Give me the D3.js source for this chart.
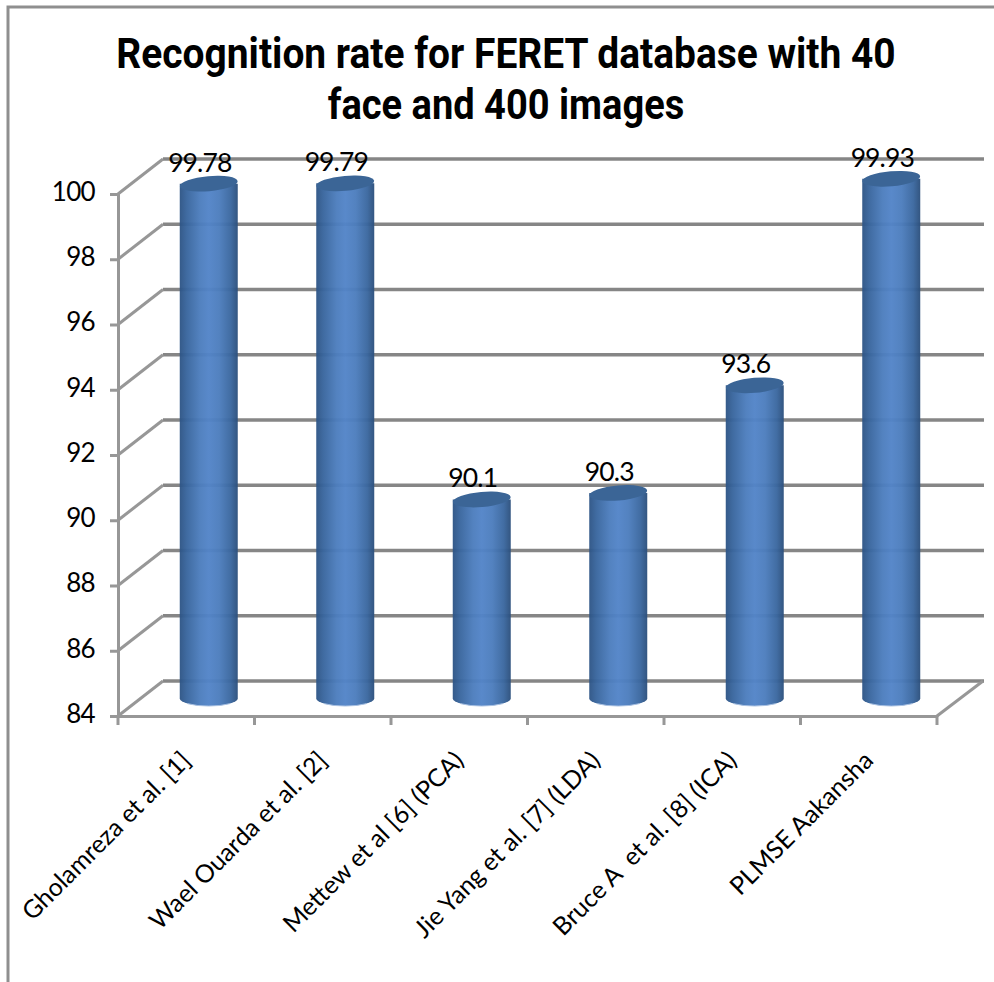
<!DOCTYPE html>
<html>
<head>
<meta charset="utf-8">
<script src="https://cdn.jsdelivr.net/npm/d3@7"></script>
<style>
  html, body { margin: 0; padding: 0; background: #fff; }
  svg { display: block; }
  text { font-family: Lato, "Open Sans", sans-serif; fill: #000; white-space: pre; }
  .title { font-family: Roboto, sans-serif; font-weight: 700; font-size: 42.5px; }
</style>
</head>
<body>
<div id="chart"></div>
<script>
var categories = ["Gholamreza et al. [1]", "Wael Ouarda et al. [2]", "Mettew et al [6] (PCA)",
    "Jie Yang et al. [7] (LDA)", "Bruce A  et al. [8] (ICA)", "PLMSE Aakansha"];
var rates = [99.78, 99.79, 90.1, 90.3, 93.6, 99.93];
var rateLabels = ["99.78", "99.79", "90.1", "90.3", "93.6", "99.93"];
var yTicks = [84, 86, 88, 90, 92, 94, 96, 98, 100];
var titleLines = ["Recognition rate for FERET database with 40", "face and 400 images"];

var width = 994, height = 982;
var depthX = 45, depthY = 35;   // offset of the back wall

var svg = d3.select("#chart").append("svg")
    .attr("width", width)
    .attr("height", height);

var x = d3.scaleBand().domain(categories).range([118, 937]);
var y = d3.scaleLinear().domain([84, 100]).range([716, 194]);

// horizontal shading of the cylinders
var grad = svg.append("defs").append("linearGradient").attr("id", "cyl");
[[0, "#2d5485"], [0.12, "#38659d"], [0.35, "#4c7dbd"], [0.5, "#5284c8"],
 [0.68, "#4c7dbd"], [0.88, "#3a679f"], [1, "#2b4f7c"]].forEach(function (s) {
    grad.append("stop").attr("offset", s[0]).attr("stop-color", s[1]);
});

// frame of the picture, cut on the right and at the bottom
svg.append("path")
    .attr("d", "M8,982V7H994")
    .attr("fill", "none")
    .attr("stroke", "#8f8f8f")
    .attr("stroke-width", 3);

// walls
var gridColor = "#868686", sideColor = "#979797";
var grid = svg.append("g");
grid.selectAll(".back").data(yTicks).enter().append("line")
    .attr("x1", 118 + depthX)
    .attr("x2", 937 + depthX + 2)
    .attr("y1", function (d) { return y(d) - depthY; })
    .attr("y2", function (d) { return y(d) - depthY; })
    .attr("stroke", gridColor)
    .attr("stroke-width", 3.5);
grid.selectAll(".side").data(yTicks).enter().append("line")
    .attr("x1", 118)
    .attr("x2", 118 + depthX)
    .attr("y1", function (d) { return y(d); })
    .attr("y2", function (d) { return y(d) - depthY; })
    .attr("stroke", sideColor)
    .attr("stroke-width", 3);
grid.append("line")
    .attr("x1", 937).attr("x2", 937 + depthX + 1)
    .attr("y1", y(84)).attr("y2", y(84) - depthY)
    .attr("stroke", sideColor)
    .attr("stroke-width", 3);

// y axis
var yAxis = svg.append("g")
    .attr("transform", "translate(118,0)")
    .call(d3.axisLeft(y).tickValues(yTicks).tickSize(8).tickPadding(15));
yAxis.selectAll("line").attr("stroke", sideColor).attr("stroke-width", 3);
yAxis.select(".domain").attr("stroke", sideColor).attr("stroke-width", 3);
yAxis.selectAll("text")
    .attr("font-size", 26)
    .attr("letter-spacing", "-0.7px")
    .attr("dy", "0.24em");

// x axis, ticks sit on the category boundaries
var xAxis = svg.append("g")
    .attr("transform", "translate(0," + y(84) + ")")
    .call(d3.axisBottom(x).tickSize(0));
xAxis.select(".domain").attr("stroke", sideColor).attr("stroke-width", 3);
xAxis.selectAll("line").remove();
xAxis.selectAll(".boundary").data(d3.range(categories.length + 1)).enter().append("line")
    .attr("x1", function (i) { return x.range()[0] + i * x.step(); })
    .attr("x2", function (i) { return x.range()[0] + i * x.step(); })
    .attr("y1", 0)
    .attr("y2", 9)
    .attr("stroke", sideColor)
    .attr("stroke-width", 3);
xAxis.selectAll(".tick text")
    .attr("font-size", 25)
    .attr("text-anchor", "end")
    .attr("dy", 0)
    .attr("y", 0)
    .attr("transform", "translate(6,46) rotate(-45)");

// cylinders
var rx = 29, ry = 7.5;
function cx(d) { return x(d) + x.bandwidth() / 2 + depthX / 2; }
function cyValue(v) { return y(v) - depthY / 2; }

var bars = svg.selectAll(".bar").data(categories).enter().append("g").attr("class", "bar");
bars.append("path")
    .attr("fill", "url(#cyl)")
    .attr("fill-opacity", 0.96)
    .attr("d", function (d, i) {
        var c = cx(d), top = cyValue(rates[i]), bottom = cyValue(84);
        return "M" + (c - rx) + "," + top + "V" + bottom +
            "A" + rx + "," + ry + " 0 0 0 " + (c + rx) + "," + bottom +
            "V" + top + "Z";
    });
// pale rim along the foot of the cylinder
bars.append("path")
    .attr("fill", "none")
    .attr("stroke", "#a9c1e2")
    .attr("stroke-width", 1)
    .attr("d", function (d) {
        var c = cx(d), bottom = cyValue(84);
        return "M" + (c - rx + 8) + "," + (bottom + 5.2) +
            "A" + rx + "," + ry + " 0 0 0 " + (c + rx - 8) + "," + (bottom + 5.2);
    });
bars.append("ellipse")
    .attr("rx", rx)
    .attr("ry", ry)
    .attr("fill", "#3b6596")
    .attr("transform", function (d, i) {
        return "translate(" + cx(d) + "," + cyValue(rates[i]) + ") rotate(-5)";
    });
bars.append("text")
    .attr("font-size", 26.5)
    .attr("letter-spacing", "-0.9px")
    .attr("text-anchor", "middle")
    .attr("x", function (d) { return cx(d) - 9; })
    .attr("y", function (d, i) { return cyValue(rates[i]) - 12; })
    .text(function (d, i) { return rateLabels[i]; });

// title, the original face is narrower than Roboto
svg.selectAll(".title").data(titleLines).enter().append("text")
    .attr("class", "title")
    .attr("text-anchor", "middle")
    .attr("transform", function (d, i) {
        return "translate(506," + (67.5 + i * 51.5) + ") scale(" + (i ? 0.895 : 0.916) + ",1)";
    })
    .text(function (d) { return d; });
</script>
</body>
</html>
